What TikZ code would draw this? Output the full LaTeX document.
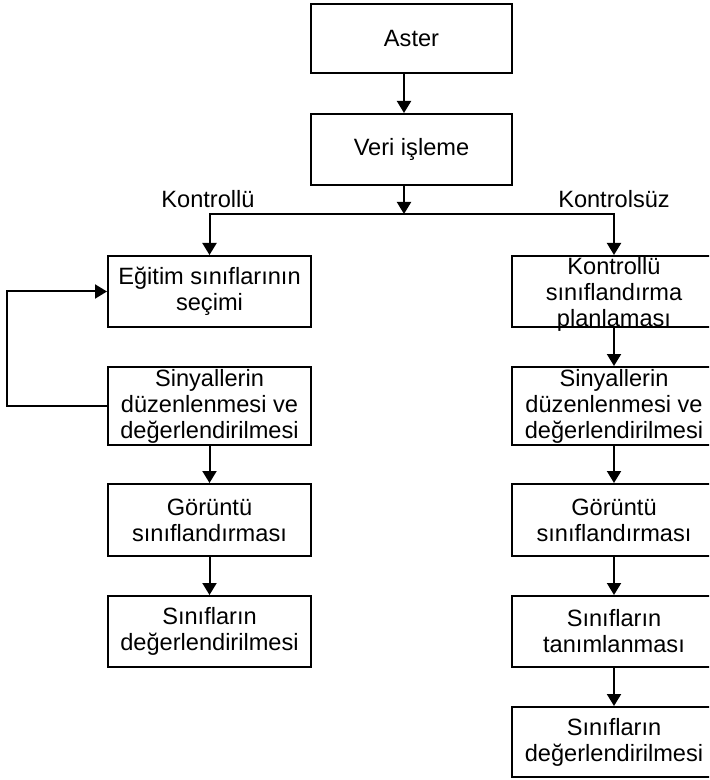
\documentclass[tikz,border=0pt]{standalone}
\usepackage{fontspec}
\setmainfont{Liberation Sans}
\usetikzlibrary{positioning, fit, arrows.meta}

\begin{document}
\begin{tikzpicture}[x=0.5pt, y=-0.5pt, >={Triangle[width=7pt,length=6pt]},
		stage/.style={draw, inner sep=0pt, line width=1pt},
		every label/.style={align=center},
		link/.style={->, line width=1pt}]
		\fontsize{11.8}{13}\selectfont
		\clip (0,0) rectangle (709,780);

		% Input and preprocessing
		\node[stage, fit={(311,4) (512,73)},
			label=center:{Aster}
			] (aster) {};
		\node[stage, fit={(311,114) (512,185)},
			label=center:{Veri işleme}
			] (veri) {};
		\coordinate (jn) at (404,214);
		\node at (208,199) (kon) {Kontrollü};
		\node at (614,199) (ksz) {Kontrolsüz};

		% Supervised branch
		\node[stage, fit={(108,256) (311,327)},
			label=center:{Eğitim sınıflarının\\seçimi}
			] (L1) {};
		\node[stage, fit={(108,367) (311,445)},
			label=center:{Sinyallerin\\düzenlenmesi ve\\değerlendirilmesi}
			] (L2) {};
		\node[stage, fit={(108,484) (311,556)},
			label=center:{Görüntü\\sınıflandırması}
			] (L3) {};
		\node[stage, fit={(108,596) (311,667)},
			label=center:{Sınıfların\\değerlendirilmesi}
			] (L4) {};

		% Unsupervised branch
		\node[stage, fit={(512,256) (716,327)},
			label={[yshift=-1.5pt]center:{Kontrollü\\sınıflandırma\\planlaması}}
			] (R1) {};
		\node[stage, fit={(512,367) (716,445)},
			label=center:{Sinyallerin\\düzenlenmesi ve\\değerlendirilmesi}
			] (R2) {};
		\node[stage, fit={(512,484) (716,556)},
			label=center:{Görüntü\\sınıflandırması}
			] (R3) {};
		\node[stage, fit={(512,596) (716,667)},
			label=center:{Sınıfların\\tanımlanması}
			] (R4) {};
		\node[stage, fit={(512,707) (716,777)},
			label=center:{Sınıfların\\değerlendirilmesi}
			] (R5) {};

		% Edges
		\draw[link] (aster.south -| jn) -- (veri.north -| jn);
		\draw[link] (veri.south -| jn) -- (jn);
		\draw[link] (jn) -| (L1.north);
		\draw[link] (jn) -| (R1.north);
		\draw[link] (L2.west) -- ++(-100,0) |- (L1.west);
		\draw[link] (L2) -- (L3);
		\draw[link] (L3) -- (L4);
		\draw[link] (R1) -- (R2);
		\draw[link] (R2) -- (R3);
		\draw[link] (R3) -- (R4);
		\draw[link] (R4) -- (R5);
	\end{tikzpicture}
\end{document}
